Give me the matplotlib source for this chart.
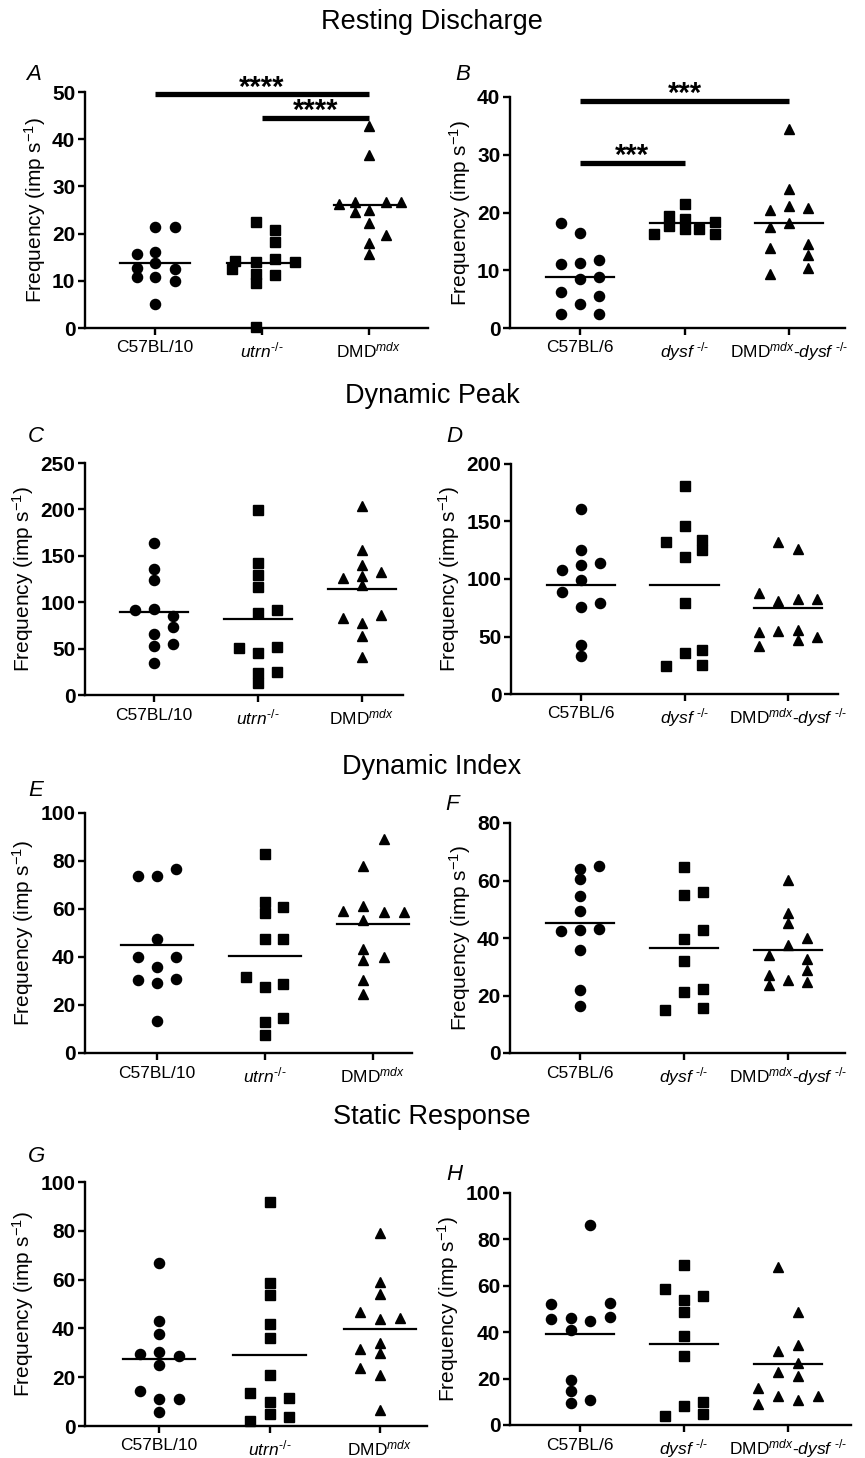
import matplotlib
matplotlib.use("Agg")
import matplotlib.pyplot as plt

plt.rcParams["font.family"] = ["Liberation Sans", "DejaVu Sans"]
plt.rcParams["mathtext.fontset"] = "custom"
plt.rcParams["mathtext.rm"] = "Liberation Sans"
plt.rcParams["mathtext.it"] = "Liberation Sans:italic"
plt.rcParams["mathtext.bf"] = "Liberation Sans:bold"

# ---------------- data ----------------
labels_left = ["C57BL/10", r"$\mathit{utrn}^{\text{-/-}}$", r"DMD$^{\mathit{mdx}}$"]
labels_right = ["C57BL/6", r"$\mathit{dysf}^{\ \text{-/-}}$",
                r"DMD$^{\mathit{mdx}}$-$\mathit{dysf}^{\ \text{-/-}}$"]
section_titles = ["Resting Discharge", "Dynamic Peak", "Dynamic Index", "Static Response"]
panel_letters = ["A", "B", "C", "D", "E", "F", "G", "H"]
ylabel = r"Frequency (imp s$^{-1}$)"

# Panel A: Resting discharge, C57BL/10 / utrn-/- / DMDmdx
A_c57 = [21.4, 21.4, 15.6, 16.1, 12.7, 13.8, 12.5, 10.8, 10.8, 10.0, 5.0]
A_utrn = [22.5, 20.7, 18.2, 14.2, 12.5, 14.0, 14.7, 14.0, 11.5, 11.2, 9.5, 0.2]
A_mdx = [42.9, 36.7, 26.3, 26.7, 26.7, 26.7, 24.6, 25.1, 22.3, 19.6, 18.0, 15.7]
A_lines = [13.8, 13.8, 26.1]

# Panel B: Resting discharge, C57BL/6 / dysf-/- / DMDmdx-dysf-/-
B_c57 = [18.1, 16.4, 11.1, 11.3, 11.8, 8.5, 8.9, 6.2, 5.5, 4.1, 2.5, 2.5]
B_dysf = [21.4, 19.4, 18.9, 17.7, 17.2, 17.2, 18.3, 16.2, 16.2]
B_dd = [34.5, 24.1, 20.5, 21.2, 20.7, 18.1, 17.5, 13.8, 14.6, 12.7, 10.4, 9.3]
B_lines = [8.9, 18.1, 18.2]

# Panel C: Dynamic peak, left strains
C_c57 = [163.7, 135.6, 124.1, 91.7, 92.8, 85.6, 73.7, 65.5, 54.7, 52.9, 34.2]
C_utrn = [199.6, 142.1, 129.5, 116.9, 88.8, 91.7, 51.1, 45.7, 52.2, 25.2, 23.4, 12.6]
C_mdx = [204.0, 155.8, 139.6, 126.6, 127.7, 132.4, 118.7, 82.7, 86.3, 78.1, 63.7, 40.6]
C_lines = [89.2, 81.7, 114.4]

# Panel D: Dynamic peak, right strains
D_c57 = [161.2, 124.9, 108.1, 112.5, 113.9, 98.8, 88.4, 79.1, 75.4, 42.3, 33.3]
D_dysf = [181.2, 145.8, 131.9, 133.6, 125.5, 119.1, 79.1, 38.6, 35.7, 24.6, 24.9]
D_dd = [131.9, 126.4, 87.8, 81.2, 82.6, 82.6, 53.9, 55.1, 55.9, 46.7, 49.3, 41.4]
D_lines = [95.1, 95.1, 74.8]

# Panel E: Dynamic index, left strains
E_c57 = [73.6, 73.6, 76.7, 47.6, 39.9, 39.9, 35.8, 30.6, 31.0, 29.2, 13.5]
E_utrn = [82.9, 62.9, 58.3, 60.8, 47.6, 47.6, 31.5, 27.4, 28.9, 12.8, 14.4, 7.6]
E_mdx = [89.3, 78.1, 59.0, 61.4, 58.6, 58.6, 55.3, 43.5, 40.0, 38.9, 30.6, 24.7]
E_lines = [44.9, 40.3, 53.6]

# Panel F: Dynamic index, right strains
F_c57 = [64.9, 64.1, 60.5, 54.5, 49.3, 42.3, 42.9, 43.1, 35.9, 22.0, 16.2]
F_dysf = [64.7, 55.1, 56.0, 39.8, 42.9, 32.1, 21.1, 22.4, 14.8, 15.5]
F_dd = [60.1, 48.7, 45.2, 40.0, 37.4, 34.0, 32.7, 27.2, 28.8, 25.5, 24.6, 23.5]
F_lines = [45.2, 36.4, 35.7]

# Panel G: Static response, left strains
G_c57 = [66.9, 42.9, 37.6, 29.6, 30.3, 28.6, 25.1, 14.3, 10.9, 10.9, 5.7]
G_utrn = [91.8, 58.6, 53.6, 41.7, 36.2, 20.8, 13.5, 9.8, 11.5, 5.1, 3.7, 1.9]
G_mdx = [79.1, 59.0, 54.2, 46.7, 44.0, 44.3, 34.2, 31.4, 29.9, 23.9, 20.8, 6.7]
G_lines = [27.6, 29.0, 39.9]

# Panel H: Static response, right strains
H_c57 = [86.3, 52.1, 52.8, 45.8, 46.0, 45.0, 46.5, 41.0, 19.4, 14.7, 9.6, 10.8]
H_dysf = [69.1, 58.7, 54.0, 55.4, 48.9, 38.4, 29.8, 10.1, 8.2, 4.6, 3.9]
H_dd = [68.1, 48.5, 31.7, 34.5, 26.6, 23.0, 21.2, 15.8, 12.7, 12.7, 10.8, 9.1]
H_lines = [39.3, 34.7, 26.2]

# significance brackets: (group from, group to, height, stars)
A_sig = [(0, 2, 49.5, "****"), (1, 2, 44.5, "****")]
B_sig = [(0, 2, 39.3, "***"), (0, 1, 28.6, "***")]

# ---------------- layout (scatter column offsets, in category units) ----------------
A_dx = [[0, .19, -.17, 0, -.17, 0, .19, -.17, 0, .19, 0],
        [-.06, .12, .12, -.25, -.28, -.06, .12, .31, -.06, .12, -.06, -.06],
        [0, 0, -.28, -.13, .16, .30, -.13, 0, 0, .16, 0, 0]]
B_dx = [[-.18, 0, -.18, 0, .18, 0, .18, -.18, .18, 0, -.18, .18],
        [0, -.15, 0, -.15, 0, .14, .29, .29, -.29],
        [0, 0, -.18, 0, .18, 0, -.18, -.18, .18, .18, .18, -.18]]
C_dx = [[0, 0, 0, -.18, 0, .18, .18, 0, .18, 0, 0],
        [0, 0, 0, 0, 0, .18, -.18, 0, .18, .18, 0, 0],
        [0, 0, 0, -.18, 0, .18, 0, -.18, .18, 0, 0, 0]]
D_dx = [[0, 0, -.18, 0, .18, 0, -.18, .18, 0, 0, 0],
        [0, 0, -.18, .17, .17, 0, 0, .17, 0, -.18, .17],
        [-.10, .10, -.28, -.10, .10, .28, -.28, -.10, .10, .10, .28, -.28]]
E_dx = [[-.18, 0, .18, 0, -.18, .18, 0, -.18, .18, 0, 0],
        [0, 0, 0, .17, 0, .17, -.18, 0, .17, 0, .17, 0],
        [.10, -.09, -.28, -.09, .10, .29, -.09, -.09, .10, -.09, -.09, -.09]]
F_dx = [[.18, 0, 0, 0, 0, -.18, 0, .18, 0, 0, 0],
        [0, 0, .18, 0, .18, 0, 0, .18, -.18, .18],
        [0, 0, 0, .18, 0, -.18, .18, -.18, .18, 0, .18, -.18]]
G_dx = [[0, 0, 0, -.17, 0, .18, 0, -.17, 0, .18, 0],
        [0, 0, 0, 0, 0, 0, -.18, 0, .18, 0, .18, -.18],
        [0, 0, 0, -.18, 0, .18, 0, -.18, 0, -.18, 0, 0]]
H_dx = [[.10, -.28, .29, -.28, -.09, .10, .29, -.09, -.09, -.09, -.09, .10],
        [0, -.18, 0, .18, 0, 0, 0, .18, 0, .18, -.18],
        [-.10, .10, -.10, .10, .10, -.10, .10, -.29, -.10, .29, .10, -.29]]

W, H = 865, 1458
fig = plt.figure(figsize=(W / 100, H / 100), dpi=100)

MARKERS = ["o", "s", "^"]


def make_panel(box, ticks_px, ylim, yticks, groups, dxs, lines, xlabels, letter, letter_px, sig=None):
    left, right, bottom, top = box
    ax = fig.add_axes([left / W, 1 - bottom / H, (right - left) / W, (bottom - top) / H])
    sp = (ticks_px[1] - ticks_px[0]) / 2.0
    ax.set_xlim(-(ticks_px[0] - left) / sp, 2 + (right - ticks_px[1]) / sp)
    ax.set_ylim(*ylim)
    for i, (vals, dx) in enumerate(zip(groups, dxs)):
        ax.plot([i + d for d in dx], vals, linestyle="none", marker=MARKERS[i],
                markersize=7.3, color="black", clip_on=False, zorder=3)
        ax.plot([i - 0.33, i + 0.33], [lines[i], lines[i]], color="black", lw=1.6, zorder=4)
    if sig:
        for g0, g1, h, stars in sig:
            ax.plot([g0, g1], [h, h], color="black", lw=3.8, solid_capstyle="butt",
                    clip_on=False, zorder=4)
            ax.annotate(stars, xy=((g0 + g1) / 2, h), xytext=(0, -1.0),
                        textcoords="offset points", ha="center", va="baseline",
                        fontsize=21, fontweight="bold", annotation_clip=False)
    for s in ["top", "right"]:
        ax.spines[s].set_visible(False)
    for s in ["left", "bottom"]:
        ax.spines[s].set_linewidth(1.7)
    ax.set_xticks([0, 1, 2])
    ax.set_xticklabels(xlabels, fontsize=12.5)
    ax.set_yticks(yticks)
    ax.set_yticklabels([str(t) for t in yticks], fontsize=15, fontweight="bold")
    ax.tick_params(axis="both", direction="out", length=5, width=1.7, pad=2)
    ax.tick_params(axis="x", pad=4)
    ax.set_ylabel(ylabel, fontsize=15, labelpad=3)
    fig.text(letter_px[0] / W, 1 - letter_px[1] / H, letter, fontsize=16,
             fontstyle="italic", ha="center", va="center")
    return ax


make_panel((85, 428, 328, 92), (155, 369), (0, 50), [0, 10, 20, 30, 40, 50],
           [A_c57, A_utrn, A_mdx], A_dx, A_lines, labels_left, panel_letters[0], (34, 74), A_sig)
make_panel((510, 845, 328, 97), (580, 789), (0, 40), [0, 10, 20, 30, 40],
           [B_c57, B_dysf, B_dd], B_dx, B_lines, labels_right, panel_letters[1], (463, 74), B_sig)
make_panel((85, 403, 695, 463), (154, 362), (0, 250), [0, 50, 100, 150, 200, 250],
           [C_c57, C_utrn, C_mdx], C_dx, C_lines, labels_left, panel_letters[2], (36, 437))
make_panel((511, 838, 694, 464), (581, 788), (0, 200), [0, 50, 100, 150, 200],
           [D_c57, D_dysf, D_dd], D_dx, D_lines, labels_right, panel_letters[3], (454, 437))
make_panel((85, 412, 1053, 813), (157, 373), (0, 100), [0, 20, 40, 60, 80, 100],
           [E_c57, E_utrn, E_mdx], E_dx, E_lines, labels_left, panel_letters[4], (36, 790))
make_panel((510, 845, 1053, 823), (580, 788), (0, 80), [0, 20, 40, 60, 80],
           [F_c57, F_dysf, F_dd], F_dx, F_lines, labels_right, panel_letters[5], (452, 805))
make_panel((85, 427, 1426, 1182), (159, 380), (0, 100), [0, 20, 40, 60, 80, 100],
           [G_c57, G_utrn, G_mdx], G_dx, G_lines, labels_left, panel_letters[6], (37, 1156))
make_panel((510, 851, 1425, 1193), (580, 788), (0, 100), [0, 20, 40, 60, 80, 100],
           [H_c57, H_dysf, H_dd], H_dx, H_lines, labels_right, panel_letters[7], (454, 1174))

for title, ypx in zip(section_titles, [22, 396, 767, 1117]):
    fig.text(432 / W, 1 - ypx / H, title, ha="center", va="center", fontsize=19.5)

fig.savefig("out.png", dpi=100)
